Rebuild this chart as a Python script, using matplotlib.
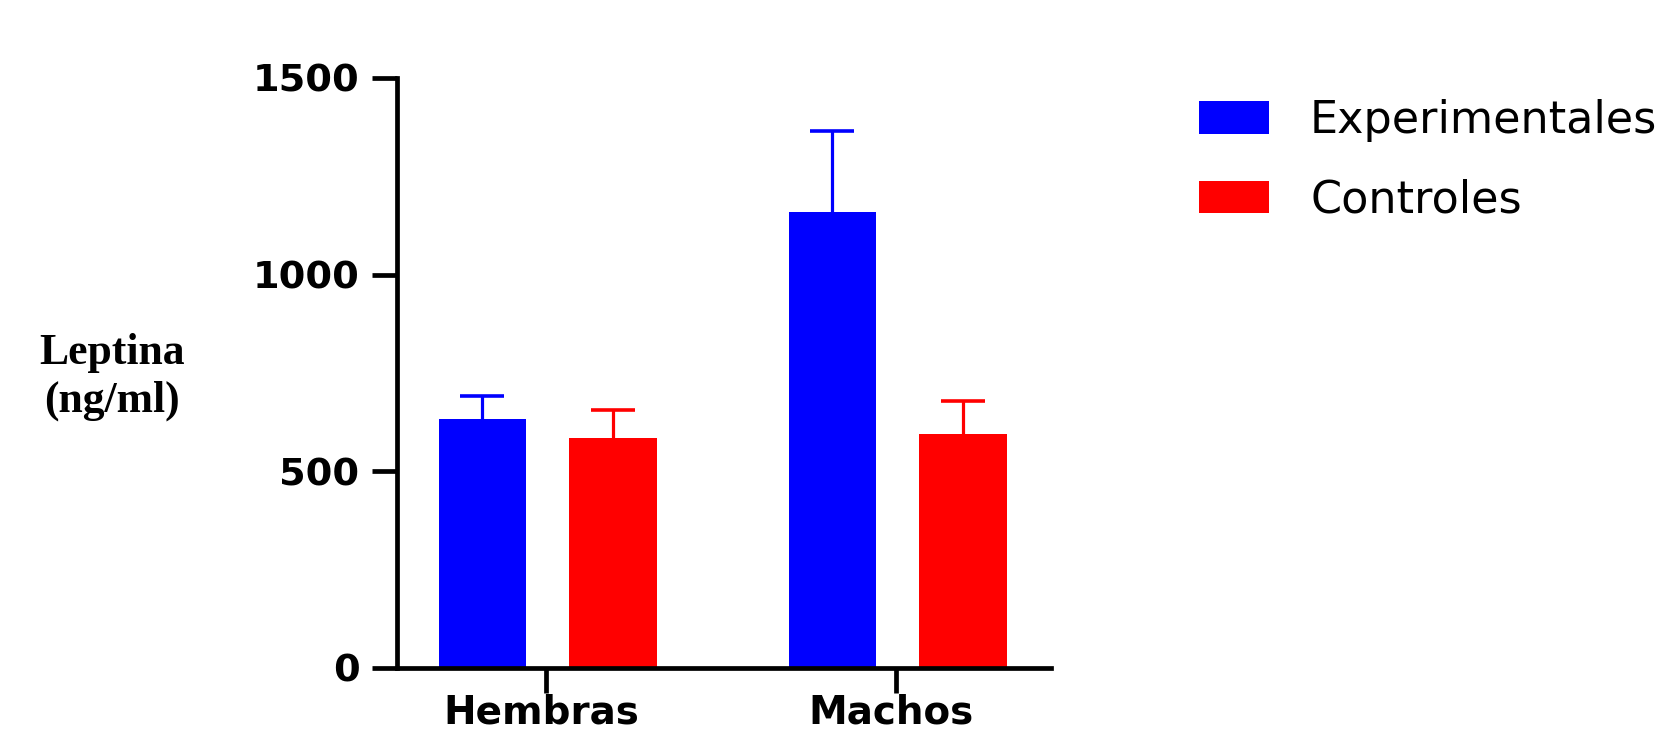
import matplotlib
matplotlib.use("Agg")
import matplotlib.pyplot as plt
import matplotlib.transforms as mtransforms
import numpy as np
from matplotlib.patches import Patch

# Leptin concentration by sex and group (mean + SEM, ng/ml)
groups = ["Hembras", "Machos"]
series_names = ["Experimentales", "Controles"]
experimentales_mean = [633, 1159]
experimentales_err = [59, 206]
controles_mean = [585, 595]
controles_err = [71, 84]
y_ticks = [0, 500, 1000, 1500]

colors = ["#0000FF", "#FF0000"]
offsets = [-0.182, 0.192]
bar_width = 0.25

fig = plt.figure(figsize=(16.6, 7.4), dpi=100)
ax = fig.add_axes([397 / 1660, 1 - 668 / 740, (1051 - 397) / 1660, (668 - 78) / 740])

x = np.arange(len(groups))
means = [experimentales_mean, controles_mean]
errs = [experimentales_err, controles_err]
for i in range(2):
    xs = x + offsets[i]
    ax.bar(xs, means[i], width=bar_width, color=colors[i], zorder=2)
    # upper-only error bars: hide the cap sitting on the bar top
    _, caps, _ = ax.errorbar(xs, means[i], yerr=[np.zeros(len(groups)), errs[i]],
                             fmt="none", ecolor=colors[i], elinewidth=2.3,
                             capsize=15.5, capthick=2.6, zorder=3)
    for cap in caps:
        if np.allclose(cap.get_ydata(), means[i]):
            cap.set_visible(False)

ax.set_xlim(-0.4257, 1.443)
ax.set_ylim(0, 1500)
ax.set_yticks(y_ticks)
ax.set_yticklabels([str(v) for v in y_ticks])
ax.set_xticks(x)
ax.set_xticklabels(groups)

for side in ["top", "right"]:
    ax.spines[side].set_visible(False)
for side in ["left", "bottom"]:
    ax.spines[side].set_linewidth(3.4)
    ax.spines[side].set_capstyle("projecting")

ax.tick_params(axis="both", length=18, width=3.4, color="black")
ax.tick_params(axis="y", pad=9)
ax.tick_params(axis="x", pad=0.5)
for lab in ax.get_yticklabels():
    lab.set_fontfamily("DejaVu Sans")
    lab.set_fontweight("bold")
    lab.set_fontsize(27.5)
shift_left = mtransforms.ScaledTranslation(-0.05, 0, fig.dpi_scale_trans)
for lab in ax.get_xticklabels():
    lab.set_fontfamily("DejaVu Sans")
    lab.set_fontweight("bold")
    lab.set_fontsize(28)
    lab.set_transform(lab.get_transform() + shift_left)

fig.text(112 / 1660, 1 - 377 / 740, "Leptina\n(ng/ml)", ha="center", va="center",
         family="Liberation Serif", fontweight="bold", fontsize=31.5, linespacing=1.22)

handles = [Patch(facecolor=c, edgecolor="none") for c in colors]
fig.legend(handles, series_names, loc="upper left",
           bbox_to_anchor=(1199 / 1660, 1 - 99 / 740), frameon=False,
           prop={"family": "DejaVu Sans", "size": 32},
           handlelength=1.58, handleheight=0.75, handletextpad=0.92,
           labelspacing=0.82, borderaxespad=0, borderpad=0)

fig.savefig("out.png", dpi=100)
